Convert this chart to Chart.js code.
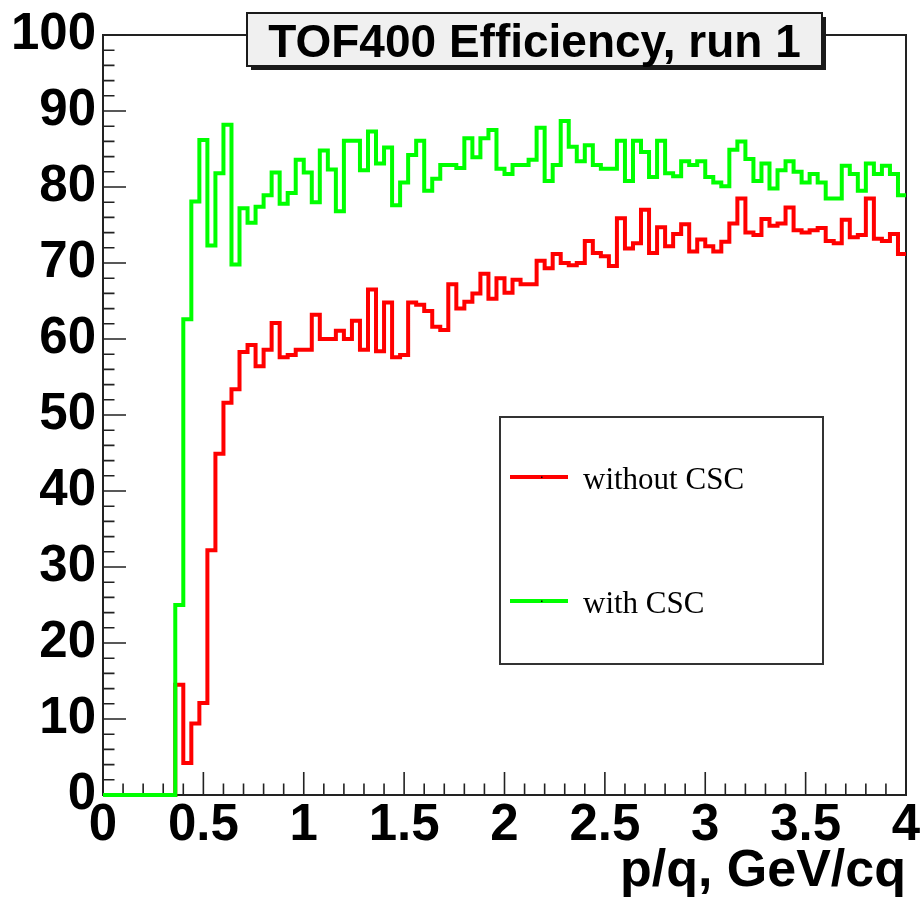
<!DOCTYPE html>
<html>
<head>
<meta charset="utf-8">
<script src="https://cdn.jsdelivr.net/npm/chart.js@4.4.1/dist/chart.umd.min.js"></script>
<style>
html,body{margin:0;padding:0;background:#fff;}
#wrap{width:920px;height:903px;position:relative;}
</style>
</head>
<body>
<div id="wrap"><canvas id="c" width="920" height="903"></canvas></div>
<script>
// Histogram binning (x axis categories): 100 bins of width 0.04 from 0 to 4
const binLow = 0;
const binWidth = 0.04;
const nBins = 100;

// Efficiency values per bin
const withoutCSC = [
  0,0,0,0,0,0,0,0,0,14.5,
  4.2,9.4,12.1,32.2,44.9,51.6,53.4,58.3,59.2,56.4,
  58.6,62.1,57.6,57.9,58.6,58.6,63.2,60.0,60.0,61.1,
  60.0,62.4,58.6,66.5,58.4,64.8,57.6,57.9,64.8,64.5,
  63.7,61.6,61.2,67.2,64.0,64.9,66.0,68.6,65.3,68.0,
  66.1,67.8,67.2,67.2,70.3,69.3,71.2,70.0,69.7,70.0,
  72.9,71.3,70.9,69.6,75.9,71.9,72.6,77.0,71.3,74.7,
  72.2,73.8,75.1,71.5,73.1,72.2,71.5,72.8,75.2,78.5,
  74.0,73.7,75.8,74.9,75.2,77.3,74.3,74.0,74.3,74.6,
  72.9,72.6,75.7,73.4,73.7,78.5,73.2,72.9,73.8,71.2
];
const withCSC = [
  0,0,0,0,0,0,0,0,0,25.0,
  62.6,78.1,86.2,72.3,81.8,88.2,69.8,77.2,75.3,77.4,
  78.9,81.9,77.8,79.2,83.6,81.9,78.0,84.8,82.3,76.8,
  86.1,86.1,82.2,87.3,83.1,85.2,77.6,80.6,84.2,86.1,
  79.5,81.1,82.9,82.9,82.5,86.4,83.9,86.4,87.5,82.4,
  81.7,82.9,82.9,83.6,87.8,80.8,82.9,88.7,85.3,83.4,
  85.5,82.9,82.4,82.4,86.1,80.8,86.1,84.6,81.3,86.1,
  81.8,81.4,83.4,82.9,83.4,81.3,80.6,80.1,84.9,86.0,
  83.7,80.8,83.1,79.8,82.2,83.4,82.0,80.6,81.7,80.6,
  78.5,78.5,82.8,81.7,79.5,83.1,81.7,82.8,81.7,78.9
];

const xMin = 0, xMax = 4, xMajor = 0.5, xMinor = 0.1;
const yMin = 0, yMax = 100, yMajor = 10, yMinor = 2;

const titleText = 'TOF400 Efficiency, run 1';
const xTitle = 'p/q, GeV/cq';
const seriesNames = ['without CSC', 'with CSC'];
const seriesColors = ['#ff0000', '#00ff00'];

function toSteps(vals) {
  const pts = vals.map((v, i) => ({ x: binLow + i * binWidth, y: v }));
  pts.push({ x: binLow + nBins * binWidth, y: vals[vals.length - 1] });
  return pts;
}

const bg = {
  id: 'bg',
  beforeDraw(chart) {
    const ctx = chart.ctx;
    ctx.save();
    ctx.fillStyle = '#ffffff';
    ctx.fillRect(0, 0, chart.width, chart.height);
    ctx.restore();
  }
};

const frame = {
  id: 'frame',
  beforeDatasetsDraw(chart) {
    const ctx = chart.ctx;
    const a = chart.chartArea;
    const xs = chart.scales.x, ys = chart.scales.y;
    ctx.save();
    ctx.strokeStyle = '#222';
    ctx.lineWidth = 2;
    ctx.strokeRect(a.left, a.top, a.right - a.left, a.bottom - a.top);
    ctx.lineWidth = 1.6;
    ctx.beginPath();
    const nx = Math.round((xMax - xMin) / xMinor);
    for (let i = 0; i <= nx; i++) {
      const v = xMin + i * xMinor;
      const px = xs.getPixelForValue(v);
      const isMajor = Math.abs(v / xMajor - Math.round(v / xMajor)) < 1e-6;
      const len = isMajor ? 23 : 11.5;
      ctx.moveTo(px, a.bottom);
      ctx.lineTo(px, a.bottom - len);
    }
    const ny = Math.round((yMax - yMin) / yMinor);
    for (let i = 0; i <= ny; i++) {
      const v = yMin + i * yMinor;
      const py = ys.getPixelForValue(v);
      const isMajor = Math.abs(v / yMajor - Math.round(v / yMajor)) < 1e-6;
      const len = isMajor ? 23 : 11.5;
      ctx.moveTo(a.left, py);
      ctx.lineTo(a.left + len, py);
    }
    ctx.stroke();
    ctx.restore();
  },
  afterDraw(chart) {
    const ctx = chart.ctx;
    const a = chart.chartArea;
    ctx.save();
    const bx = 247, by = 13, bw = 575, bh = 53;
    ctx.fillStyle = '#1a1a1a';
    ctx.fillRect(bx + 4, by + 4, bw, bh);
    ctx.fillStyle = '#f0f0f0';
    ctx.fillRect(bx, by, bw, bh);
    ctx.strokeStyle = '#1a1a1a';
    ctx.lineWidth = 2;
    ctx.strokeRect(bx, by, bw, bh);
    ctx.fillStyle = '#000';
    ctx.font = 'bold 46px "Liberation Sans", Arial, sans-serif';
    ctx.textAlign = 'center';
    ctx.textBaseline = 'alphabetic';
    ctx.fillText(titleText, bx + bw / 2, by + 44);

    ctx.font = 'bold 52px "Liberation Sans", Arial, sans-serif';
    ctx.textAlign = 'right';
    ctx.fillText(xTitle, a.right, 886);

    const lx = 500, ly = 417, lw = 323, lh = 247;
    ctx.fillStyle = '#fff';
    ctx.fillRect(lx, ly, lw, lh);
    ctx.strokeStyle = '#333';
    ctx.lineWidth = 2;
    ctx.strokeRect(lx, ly, lw, lh);
    const rows = [477, 601];
    ctx.font = '31px "Liberation Serif", "Times New Roman", serif';
    ctx.textAlign = 'left';
    for (let i = 0; i < 2; i++) {
      ctx.strokeStyle = seriesColors[i];
      ctx.lineWidth = 4;
      ctx.beginPath();
      ctx.moveTo(510, rows[i]);
      ctx.lineTo(568, rows[i]);
      ctx.stroke();
      ctx.fillStyle = '#000';
      ctx.fillRect(541, rows[i] - 0.5, 1.5, 1.5);
      ctx.fillText(seriesNames[i], 583, rows[i] + 12);
    }
    ctx.restore();
  }
};

const tickFont = { family: '"Liberation Sans", Arial, sans-serif', size: 51, weight: 'bold' };

new Chart(document.getElementById('c'), {
  type: 'line',
  data: {
    datasets: [
      {
        label: seriesNames[0],
        data: toSteps(withoutCSC),
        borderColor: seriesColors[0],
        borderWidth: 4,
        stepped: 'before',
        pointRadius: 0,
        fill: false,
        clip: 6,
        order: 1
      },
      {
        label: seriesNames[1],
        data: toSteps(withCSC),
        borderColor: seriesColors[1],
        borderWidth: 4,
        stepped: 'before',
        pointRadius: 0,
        fill: false,
        clip: 6,
        order: 0
      }
    ]
  },
  options: {
    responsive: false,
    animation: false,
    devicePixelRatio: 1,
    layout: { padding: { left: 0, right: 14, top: 35, bottom: 0 } },
    plugins: { legend: { display: false }, tooltip: { enabled: false }, title: { display: false } },
    scales: {
      x: {
        type: 'linear',
        min: xMin, max: xMax,
        grid: { display: false, drawTicks: false },
        border: { display: false },
        afterFit(s) { s.height = 108; s.paddingLeft = 0; s.paddingRight = 0; },
        ticks: {
          stepSize: xMajor,
          autoSkip: false,
          maxRotation: 0,
          minRotation: 0,
          padding: 0,
          color: '#000',
          font: tickFont,
          callback: (v) => String(Number(v.toFixed(2)))
        }
      },
      y: {
        type: 'linear',
        min: yMin, max: yMax,
        grid: { display: false, drawTicks: false },
        border: { display: false },
        afterFit(s) { s.width = 103; s.paddingTop = 0; s.paddingBottom = 0; },
        ticks: {
          stepSize: yMajor,
          autoSkip: false,
          padding: 7,
          color: '#000',
          font: tickFont
        }
      }
    }
  },
  plugins: [bg, frame]
});
</script>
</body>
</html>
